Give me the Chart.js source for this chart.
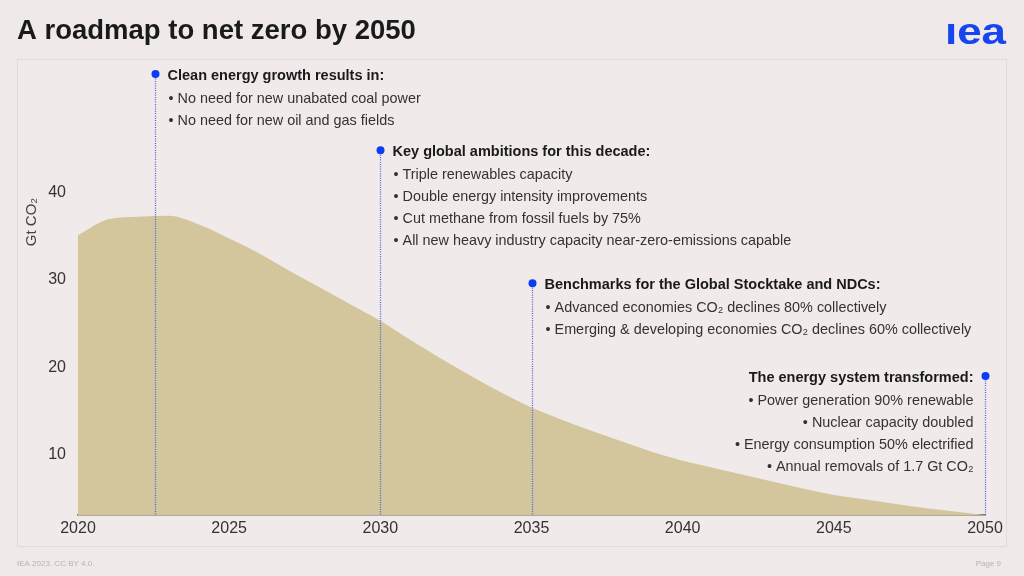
<!DOCTYPE html>
<html>
<head>
<meta charset="utf-8">
<script src="https://cdn.jsdelivr.net/npm/chart.js@4.4.1/dist/chart.umd.min.js"></script>
<style>
  html, body { margin: 0; padding: 0; background: #efe9e9; }
  #wrap { position: relative; width: 1024px; height: 576px; }
  canvas { display: block; }
</style>
</head>
<body>
<div id="wrap"><canvas id="chart" width="1024" height="576"></canvas></div>
<script>
// CO2 emissions pathway, Gt CO2 per year
const years = [2020, 2021, 2022, 2023, 2024, 2025, 2026, 2027, 2028, 2029, 2030,
  2031, 2032, 2033, 2034, 2035, 2036, 2037, 2038, 2039, 2040,
  2041, 2042, 2043, 2044, 2045, 2046, 2047, 2048, 2049, 2050];
const emissions = [35.1, 36.9, 37.2, 37.3, 36.3, 34.7, 33.0, 31.0, 29.1, 27.2, 25.3,
  23.1, 21.0, 19.0, 17.1, 15.4, 14.0, 12.7, 11.5, 10.3, 9.3,
  8.5, 7.7, 6.9, 6.1, 5.4, 4.9, 4.4, 3.9, 3.5, 3.1];
const xTicks = [2020, 2025, 2030, 2035, 2040, 2045, 2050];
const yTicks = [10, 20, 30, 40];

// milestone call-outs
const markerYears = [2022.55, 2030, 2035, 2050];
const markerValues = [53.5, 44.8, 29.6, 19.0];
const markerHeads = [
  'Clean energy growth results in:',
  'Key global ambitions for this decade:',
  'Benchmarks for the Global Stocktake and NDCs:',
  'The energy system transformed:'
];
const markerBullets = [
  ['No need for new unabated coal power', 'No need for new oil and gas fields'],
  ['Triple renewables capacity', 'Double energy intensity improvements',
   'Cut methane from fossil fuels by 75%', 'All new heavy industry capacity near-zero-emissions capable'],
  ['Advanced economies CO\u2082 declines 80% collectively',
   'Emerging & developing economies CO\u2082 declines 60% collectively'],
  ['Power generation 90% renewable', 'Nuclear capacity doubled',
   'Energy consumption 50% electrified', 'Annual removals of 1.7 Gt CO\u2082']
];
const markerRight = [false, false, false, true];

const FONT = '"Liberation Sans", Arial, sans-serif';

const slidePlugin = {
  id: 'slide',
  beforeDraw(chart) {
    const ctx = chart.ctx;
    ctx.save();
    ctx.fillStyle = '#efe9e9';
    ctx.fillRect(0, 0, chart.width, chart.height);
    ctx.fillStyle = '#f0eaea';
    ctx.fillRect(17, 59, 989, 487);
    ctx.strokeStyle = '#e2dbdb';
    ctx.lineWidth = 1;
    ctx.strokeRect(17.5, 59.5, 989, 487);

    ctx.fillStyle = '#1a1a1a';
    ctx.font = 'bold 27.5px ' + FONT;
    ctx.textBaseline = 'middle';
    ctx.fillText('A roadmap to net zero by 2050', 17, 31);

    // logo
    ctx.save();
    ctx.fillStyle = '#1746f0';
    ctx.font = 'bold 36px ' + FONT;
    ctx.textAlign = 'right';
    ctx.textBaseline = 'alphabetic';
    ctx.translate(1006, 44);
    ctx.scale(1.22, 1);
    ctx.fillText('\u0131ea', 0, 0);
    ctx.restore();

    ctx.fillStyle = '#b9b3b3';
    ctx.font = '8px ' + FONT;
    ctx.textAlign = 'left';
    ctx.textBaseline = 'middle';
    ctx.fillText('IEA 2023. CC BY 4.0.', 17, 564);
    ctx.textAlign = 'right';
    ctx.fillText('Page 9', 1001, 564);

    ctx.fillStyle = '#444';
    ctx.font = '15px ' + FONT;
    ctx.textAlign = 'center';
    ctx.translate(32, 222);
    ctx.rotate(-Math.PI / 2);
    ctx.fillText('Gt CO\u2082', 0, 0);
    ctx.restore();
  },
  afterDatasetsDraw(chart) {
    const ctx = chart.ctx;
    const xs = chart.scales.x, ys = chart.scales.y;
    const base = chart.chartArea.bottom;
    ctx.save();
    markerYears.forEach((yr, i) => {
      const px = Math.round(xs.getPixelForValue(yr)) + 0.5;
      const py = ys.getPixelForValue(markerValues[i]);
      ctx.strokeStyle = '#4a62dc';
      ctx.lineWidth = 1.3;
      ctx.setLineDash([1, 1.3]);
      ctx.beginPath();
      ctx.moveTo(px, py);
      ctx.lineTo(px, base);
      ctx.stroke();
      ctx.setLineDash([]);
      ctx.fillStyle = '#0a3cf5';
      ctx.beginPath();
      ctx.arc(px, py, 4, 0, Math.PI * 2);
      ctx.fill();

      const right = markerRight[i];
      const tx = right ? px - 12 : px + 12;
      ctx.textAlign = right ? 'right' : 'left';
      ctx.textBaseline = 'middle';
      ctx.fillStyle = '#1a1a1a';
      ctx.font = 'bold 14.5px ' + FONT;
      ctx.fillText(markerHeads[i], tx, py + 2);
      ctx.fillStyle = '#333';
      ctx.font = '14.4px ' + FONT;
      markerBullets[i].forEach((b, j) => {
        ctx.fillText('\u2022 ' + b, right ? tx : tx + 1, py + 25 + j * 22);
      });
    });
    ctx.restore();
  }
};

new Chart(document.getElementById('chart'), {
  type: 'line',
  data: {
    datasets: [{
      data: years.map((y, i) => ({ x: y, y: emissions[i] })),
      fill: 'start',
      backgroundColor: '#d3c69c',
      borderWidth: 0,
      pointRadius: 0,
      tension: 0.3,
      cubicInterpolationMode: 'monotone'
    }]
  },
  options: {
    responsive: false,
    animation: false,
    layout: { padding: { top: 60, right: 39, left: 0, bottom: 0 } },
    plugins: { legend: { display: false }, tooltip: { enabled: false } },
    scales: {
      x: {
        type: 'linear',
        min: 2020,
        max: 2050,
        afterBuildTicks: (s) => { s.ticks = xTicks.map(v => ({ value: v })); },
        afterFit: (s) => { s.height = 61; },
        grid: { display: false, drawTicks: false, tickLength: 0 },
        border: { display: true, color: '#6c6757', width: 1.5 },
        ticks: {
          padding: 4,
          color: '#333',
          font: { family: FONT, size: 16 },
          maxRotation: 0,
          callback: (v) => String(v)
        }
      },
      y: {
        min: 3.1,
        max: 55.1,
        afterBuildTicks: (s) => { s.ticks = yTicks.map(v => ({ value: v })); },
        afterFit: (s) => { s.width = 78; },
        grid: { display: false, drawTicks: false, tickLength: 0 },
        border: { display: false },
        ticks: {
          padding: 12,
          color: '#333',
          font: { family: FONT, size: 16 }
        }
      }
    }
  },
  plugins: [slidePlugin]
});
</script>
</body>
</html>
